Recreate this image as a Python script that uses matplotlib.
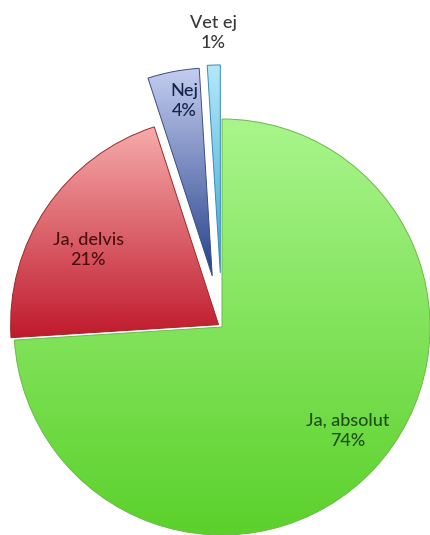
import matplotlib
matplotlib.use("Agg")
import matplotlib.pyplot as plt
import numpy as np
from matplotlib.colors import LinearSegmentedColormap

# data
categories = ["Ja, absolut", "Ja, delvis", "Nej", "Vet ej"]
values = [74, 21, 4, 1]
pct_labels = ["74%", "21%", "4%", "1%"]

# styles
explode = [0, 0.02, 0.25, 0.26]
grad_top = ["#a9f58c", "#f6abab", "#c4cdef", "#b4e8fa"]
grad_bottom = ["#5bd12b", "#c01a2c", "#25418a", "#3aa6d6"]
edge_colors = ["#6cb84a", "#9a2a2a", "#3a4f80", "#3a8ab0"]
text_colors = ["#1f4f17", "#4a1010", "#17244a", "#3a3a3a"]
label_xy = [(0.606, -0.50), (-0.644, 0.37), (-0.183, 1.087), (-0.043, 1.413)]

plt.rcParams['font.family'] = ['Lato', 'DejaVu Sans']

fig = plt.figure(figsize=(4.3, 5.35), dpi=100)
ax = fig.add_axes([0, 0, 1, 1])

wedges, _ = ax.pie(values, startangle=90, counterclock=False, explode=explode,
                   radius=1, center=(0, 0),
                   wedgeprops=dict(linewidth=0.7))

grad = np.linspace(1, 0, 256).reshape(-1, 1)
for w, c1, c2, ec in zip(wedges, grad_top, grad_bottom, edge_colors):
    w.set_facecolor("none")
    w.set_edgecolor(ec)
    w.set_zorder(3)
    bb = w.get_path().get_extents()
    cmap = LinearSegmentedColormap.from_list("g", [c2, c1])
    im = ax.imshow(grad, cmap=cmap, aspect="auto",
                   extent=(bb.x0, bb.x1, bb.y0, bb.y1), zorder=2)
    im.set_clip_path(w)

for (x, y), cat, pct, tc in zip(label_xy, categories, pct_labels, text_colors):
    ax.text(x, y, f"{cat}\n{pct}", ha="center", va="center", fontsize=13,
            color=tc, linespacing=1.35, fontweight="medium", zorder=5)

ax.set_xlim(-222 / 208, 208 / 208)
ax.set_ylim(-208 / 208, 327 / 208)
ax.set_aspect("auto")
ax.axis("off")

fig.savefig("out.png", dpi=100)
